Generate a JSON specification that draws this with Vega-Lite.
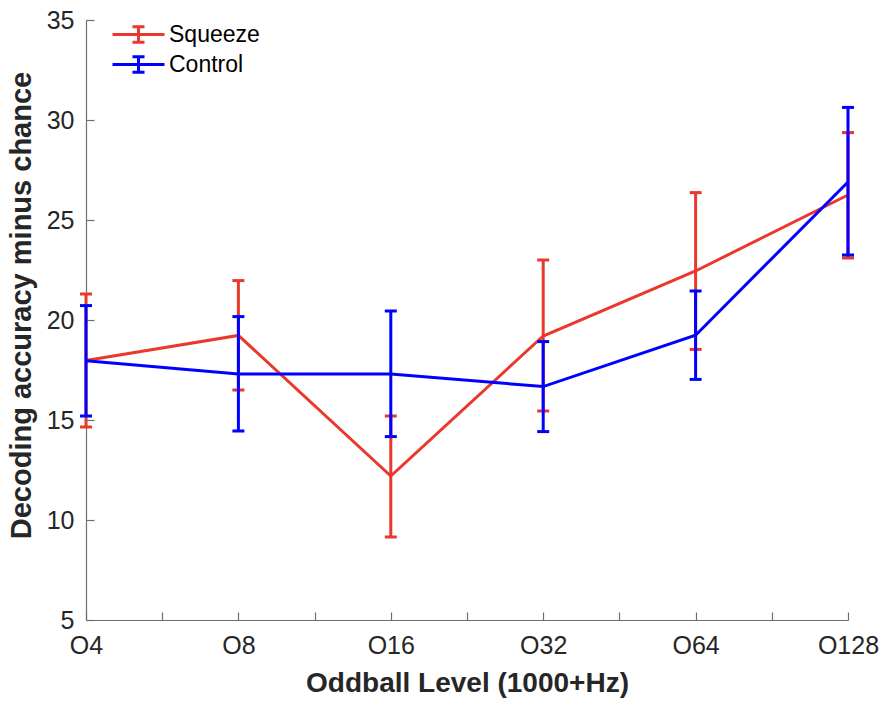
{
  "$schema": "https://vega.github.io/schema/vega-lite/v6.json",
  "width": 762,
  "height": 600,
  "autosize": {"type": "none"},
  "padding": {"left": 86, "top": 20, "right": 32, "bottom": 82},
  "background": "white",
  "config": {
    "view": {"stroke": null},
    "font": "Liberation Sans",
    "axis": {
      "grid": false,
      "domainColor": "#6e6e6e",
      "domainWidth": 1.2,
      "tickColor": "#6e6e6e",
      "tickWidth": 1.2,
      "tickSize": -8,
      "labelFont": "Liberation Sans",
      "labelFontSize": 25,
      "labelColor": "#262626",
      "titleFont": "Liberation Sans",
      "titleFontSize": 28,
      "titleFontWeight": "bold",
      "titleColor": "#262626"
    }
  },
  "data": {
    "values": [
      {"level": "O4", "idx": 0, "group": "Squeeze", "mean": 17.98, "lo": 14.65, "hi": 21.3},
      {"level": "O8", "idx": 1, "group": "Squeeze", "mean": 19.23, "lo": 16.5, "hi": 21.97},
      {"level": "O16", "idx": 2, "group": "Squeeze", "mean": 12.2, "lo": 9.15, "hi": 15.2},
      {"level": "O32", "idx": 3, "group": "Squeeze", "mean": 19.2, "lo": 15.45, "hi": 23.0},
      {"level": "O64", "idx": 4, "group": "Squeeze", "mean": 22.45, "lo": 18.53, "hi": 26.37},
      {"level": "O128", "idx": 5, "group": "Squeeze", "mean": 26.25, "lo": 23.1, "hi": 29.37},
      {"level": "O4", "idx": 0, "group": "Control", "mean": 17.96, "lo": 15.2, "hi": 20.72},
      {"level": "O8", "idx": 1, "group": "Control", "mean": 17.3, "lo": 14.45, "hi": 20.17},
      {"level": "O16", "idx": 2, "group": "Control", "mean": 17.3, "lo": 14.17, "hi": 20.45},
      {"level": "O32", "idx": 3, "group": "Control", "mean": 16.67, "lo": 14.42, "hi": 18.92},
      {"level": "O64", "idx": 4, "group": "Control", "mean": 19.24, "lo": 17.03, "hi": 21.45},
      {"level": "O128", "idx": 5, "group": "Control", "mean": 26.9, "lo": 23.25, "hi": 30.63}
    ]
  },
  "encoding": {
    "x": {
      "field": "idx",
      "type": "quantitative",
      "scale": {"domain": [0, 5], "nice": false, "zero": false},
      "axis": {
        "title": "Oddball Level (1000+Hz)",
        "values": [0, 0.5, 1, 1.5, 2, 2.5, 3, 3.5, 4, 4.5, 5],
        "labelExpr": "datum.value % 1 == 0 ? ['O4','O8','O16','O32','O64','O128'][datum.value] : ''",
        "labelOverlap": false,
        "labelFlush": false,
        "labelBound": false,
        "labelPadding": 21,
        "titlePadding": 11
      }
    },
    "color": {
      "field": "group",
      "type": "nominal",
      "scale": {"domain": ["Squeeze", "Control"], "range": ["#E8392C", "#0000FF"]},
      "legend": {
        "orient": "none",
        "legendX": 37,
        "legendY": -1,
        "title": null,
        "symbolType": "M-1.857,0H1.857M0,-0.56V0.56M-0.43,-0.56H0.43M-0.43,0.56H0.43",
        "symbolSize": 784,
        "symbolStrokeWidth": 3,
        "symbolOpacity": 1,
        "symbolFillColor": "transparent",
        "labelFont": "Liberation Sans",
        "labelFontSize": 23,
        "labelColor": "#000000",
        "labelOffset": 15,
        "rowPadding": -1
      }
    }
  },
  "layer": [
    {
      "transform": [{"filter": "datum.group == 'Squeeze'"}],
      "mark": {"type": "line", "strokeWidth": 3},
      "encoding": {
        "y": {
          "field": "mean",
          "type": "quantitative",
          "scale": {"domain": [5, 35], "nice": false, "zero": false},
          "axis": {
            "title": "Decoding accuracy minus chance",
            "values": [5, 10, 15, 20, 25, 30, 35],
            "labelPadding": 20,
            "titlePadding": 10,
            "titleFontSize": 29,
            "titleY": 285
          }
        }
      }
    },
    {
      "transform": [{"filter": "datum.group == 'Squeeze'"}],
      "mark": {"type": "rule", "strokeWidth": 3},
      "encoding": {"y": {"field": "lo", "type": "quantitative"}, "y2": {"field": "hi"}}
    },
    {
      "transform": [{"filter": "datum.group == 'Squeeze'"}],
      "mark": {"type": "tick", "orient": "horizontal", "size": 12, "thickness": 3, "opacity": 1},
      "encoding": {"y": {"field": "lo", "type": "quantitative"}}
    },
    {
      "transform": [{"filter": "datum.group == 'Squeeze'"}],
      "mark": {"type": "tick", "orient": "horizontal", "size": 12, "thickness": 3, "opacity": 1},
      "encoding": {"y": {"field": "hi", "type": "quantitative"}}
    },
    {
      "transform": [{"filter": "datum.group == 'Control'"}],
      "mark": {"type": "line", "strokeWidth": 3},
      "encoding": {"y": {"field": "mean", "type": "quantitative"}}
    },
    {
      "transform": [{"filter": "datum.group == 'Control'"}],
      "mark": {"type": "rule", "strokeWidth": 3},
      "encoding": {"y": {"field": "lo", "type": "quantitative"}, "y2": {"field": "hi"}}
    },
    {
      "transform": [{"filter": "datum.group == 'Control'"}],
      "mark": {"type": "tick", "orient": "horizontal", "size": 12, "thickness": 3, "opacity": 1},
      "encoding": {"y": {"field": "lo", "type": "quantitative"}}
    },
    {
      "transform": [{"filter": "datum.group == 'Control'"}],
      "mark": {"type": "tick", "orient": "horizontal", "size": 12, "thickness": 3, "opacity": 1},
      "encoding": {"y": {"field": "hi", "type": "quantitative"}}
    }
  ]
}
